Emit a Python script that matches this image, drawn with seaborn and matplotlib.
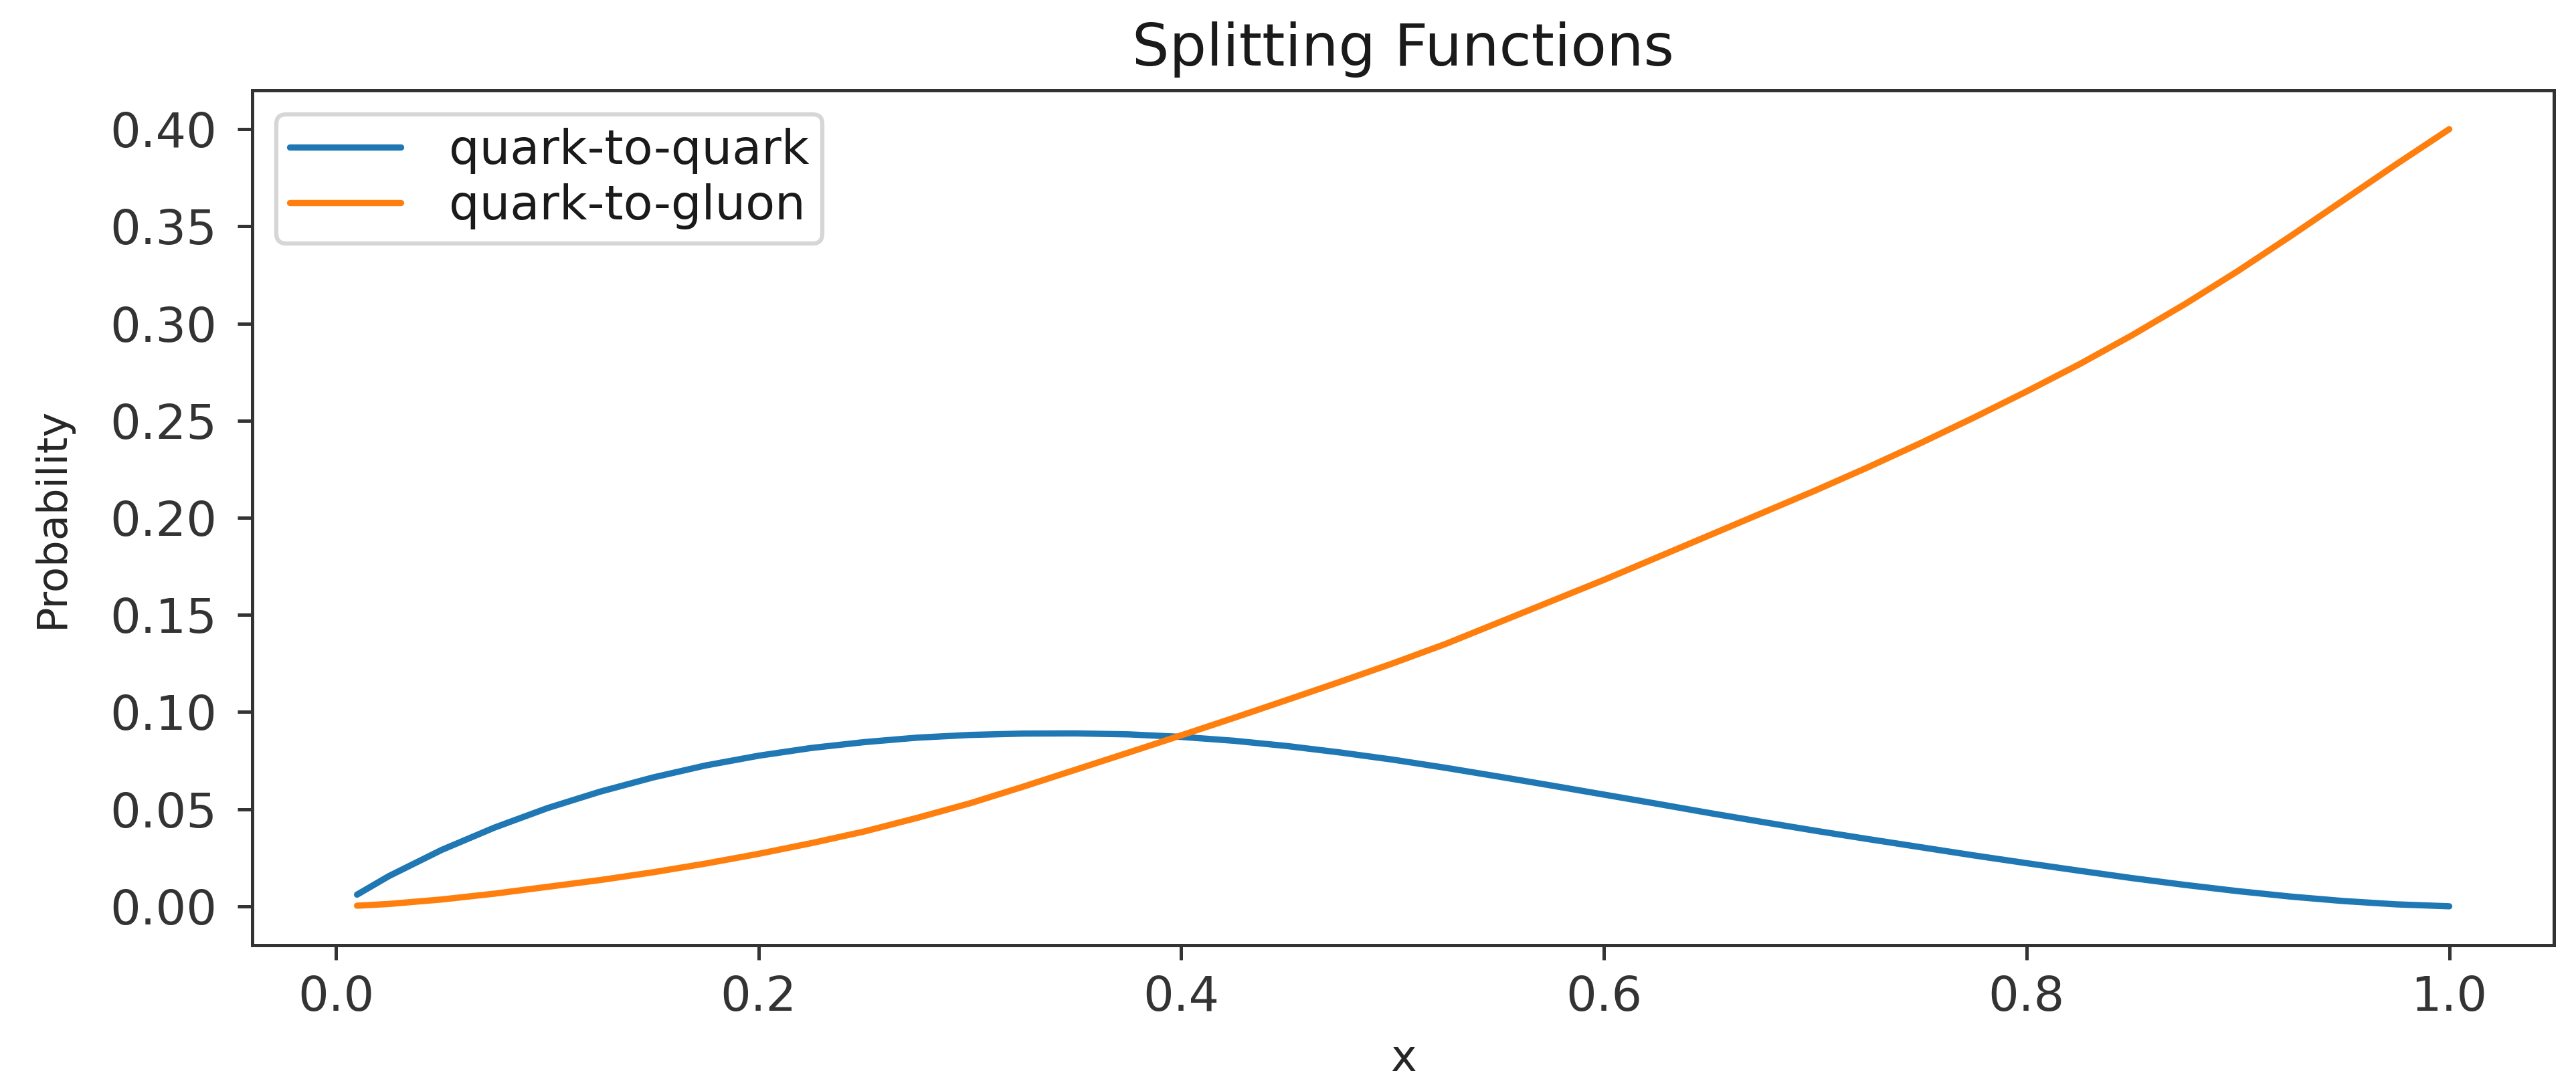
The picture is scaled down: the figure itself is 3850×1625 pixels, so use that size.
import numpy as np
import pandas as pd
import matplotlib
matplotlib.use("Agg")
import matplotlib.pyplot as plt
from matplotlib.ticker import MultipleLocator
import seaborn as sns

# values
x_vals = [0.01, 0.025, 0.05, 0.075, 0.10, 0.125, 0.15, 0.175, 0.20, 0.225,
          0.25, 0.275, 0.30, 0.325, 0.35, 0.375, 0.40, 0.425, 0.45, 0.475,
          0.50, 0.525, 0.55, 0.575, 0.60, 0.625, 0.65, 0.675, 0.70, 0.725,
          0.75, 0.775, 0.80, 0.825, 0.85, 0.875, 0.90, 0.925, 0.95, 0.975, 1.00]
quark_to_quark = [0.006, 0.0155, 0.029, 0.0405, 0.0505, 0.059, 0.0663, 0.0725, 0.0775, 0.0815,
                  0.0845, 0.0868, 0.0882, 0.0889, 0.089, 0.0885, 0.0872, 0.0852, 0.0825, 0.0792,
                  0.0755, 0.0713, 0.0668, 0.0622, 0.0575, 0.0528, 0.048, 0.0434, 0.0389, 0.0346,
                  0.0304, 0.0262, 0.0222, 0.0183, 0.0145, 0.011, 0.0078, 0.005, 0.0027, 0.001, 0.000]
quark_to_gluon = [0.0003, 0.0012, 0.0035, 0.0065, 0.010, 0.0135, 0.0175, 0.022, 0.027, 0.0325,
                  0.0385, 0.0455, 0.053, 0.0615, 0.0703, 0.0791, 0.088, 0.097, 0.1062, 0.1155,
                  0.125, 0.135, 0.146, 0.157, 0.168, 0.1795, 0.191, 0.2025, 0.214, 0.226,
                  0.2385, 0.2515, 0.265, 0.279, 0.294, 0.310, 0.327, 0.345, 0.3635, 0.382, 0.400]
labels = ["quark-to-quark", "quark-to-gluon"]
colors = ["#1f77b4", "#ff7f0e"]

df = pd.DataFrame({"x": x_vals, "qq": quark_to_quark, "qg": quark_to_gluon})

sns.set_style("ticks")
plt.rcParams["font.family"] = ["DejaVu Sans"]
plt.rcParams["axes.edgecolor"] = "#333333"
plt.rcParams["xtick.color"] = "#333333"
plt.rcParams["ytick.color"] = "#333333"
plt.rcParams["text.color"] = "#1a1a1a"

fig = plt.figure(figsize=(3850 / 450, 1625 / 450), dpi=450)
ax = fig.add_axes([0.098, 0.1305, 0.8934, 0.7864])

sns.lineplot(data=df, x="x", y="qq", ax=ax, color=colors[0], linewidth=1.5, label=labels[0])
sns.lineplot(data=df, x="x", y="qg", ax=ax, color=colors[1], linewidth=1.5, label=labels[1])

ax.set_title("Splitting Functions", fontsize=14)
ax.set_xlabel("x", fontsize=10.5)
ax.set_ylabel("Probability", fontsize=10, labelpad=9)
ax.xaxis.set_major_locator(MultipleLocator(0.2))
ax.yaxis.set_major_locator(MultipleLocator(0.05))
ax.tick_params(axis="both", labelsize=11.5, width=0.8, length=3.5)
ax.tick_params(axis="y", pad=5)
for s in ax.spines.values():
    s.set_linewidth(0.8)

ax.legend(loc="upper left", fontsize=11.5, handlelength=2.3, handletextpad=1.0,
          labelspacing=0.2, borderpad=0.28, frameon=True)

fig.savefig("out.png", dpi=450)
